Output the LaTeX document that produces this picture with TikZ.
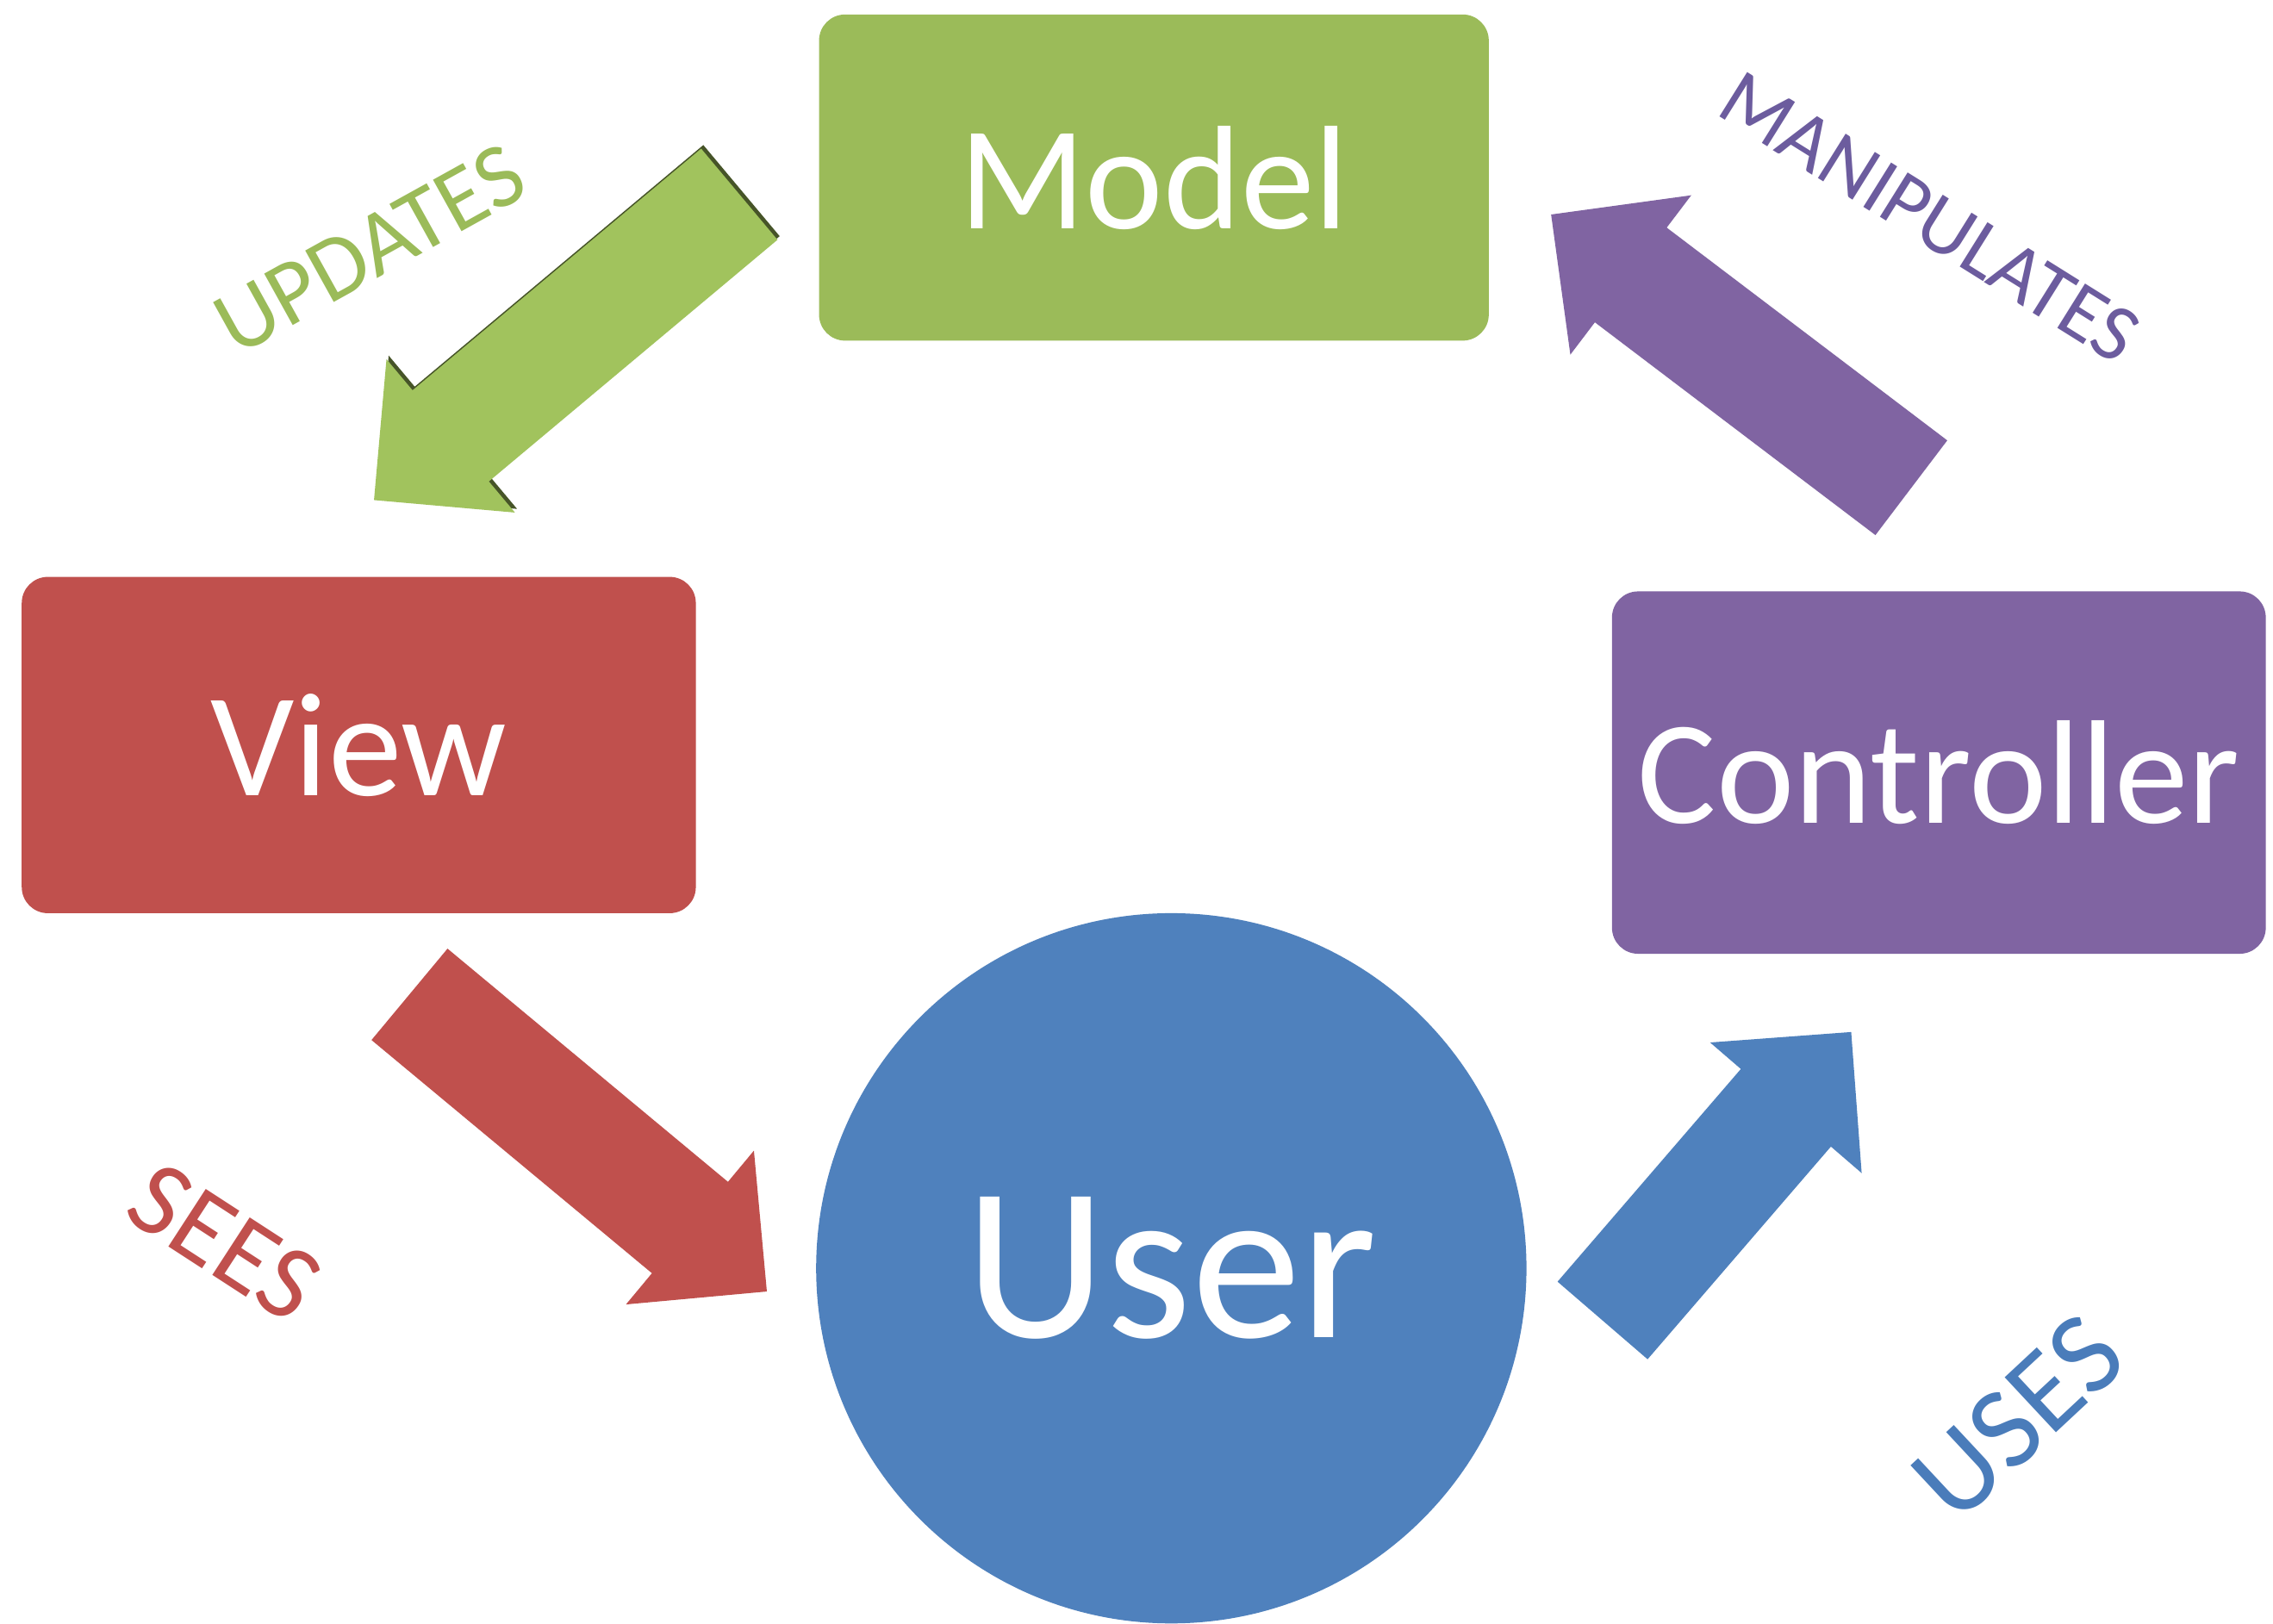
\documentclass[tikz,border=0pt]{standalone}
\usepackage{fontspec}
\setmainfont{Carlito}
\usetikzlibrary{calc,positioning}
\definecolor{mvcgreen}{HTML}{9BBB59}
\definecolor{arrgreen}{HTML}{A1C35D}
\definecolor{mvcred}{HTML}{C0504D}
\definecolor{mvcpurple}{HTML}{8064A2}
\definecolor{mvcblue}{HTML}{4F81BD}
\definecolor{txtpurple}{HTML}{6C5C9E}
\definecolor{txtblue}{HTML}{4A7CBA}
% block arrow: colour, tail, tip
\newcommand{\blockarrow}[3]{%
  \coordinate (nk) at ($(#3)!0.69cm!(#2)$);
  \fill[#1] ($(#2)!0.41cm!90:(#3)$) -- ($(nk)!0.41cm!90:(#3)$) -- ($(nk)!0.69cm!90:(#3)$) -- (#3)
    -- ($(nk)!0.69cm!-90:(#3)$) -- ($(nk)!0.41cm!-90:(#3)$) -- ($(#2)!0.41cm!-90:(#3)$) -- cycle;}
\begin{document}
\begin{tikzpicture}[
    boxnode/.style={rectangle,rounded corners=0.18cm,text=white,inner sep=0,
      font=\fontsize{29}{34}\selectfont},
    usercircle/.style={circle,fill=mvcblue,text=white,inner sep=0,minimum size=4.9cm,
      font=\fontsize{43}{50}\selectfont},
    verbtxt/.style={inner sep=0}]
    \useasboundingbox (0,0) rectangle (15.68,-11.2);
    \fill[white] (0,0) rectangle (15.68,-11.2);
    % Boxes
    \node[boxnode,fill=mvcgreen,minimum width=4.62cm,minimum height=2.25cm] (model) at (7.96,-1.225) {Model};
    \node[boxnode,fill=mvcred,minimum width=4.65cm,minimum height=2.32cm] (view) at (2.475,-5.14) {View};
    \node[boxnode,fill=mvcpurple,minimum width=4.51cm,minimum height=2.5cm] (ctrl) at (13.375,-5.33) {Controller};
    \node[usercircle] (user) at (8.08,-8.75) {User};
    % Arrow ends
    \coordinate (updS) at (5.10,-1.34);   \coordinate (updE) at (2.58,-3.45);
    \coordinate (updSs) at (5.115,-1.315); \coordinate (updEs) at (2.595,-3.425);
    \coordinate (seeS) at (2.825,-6.86);  \coordinate (seeE) at (5.29,-8.91);
    \coordinate (useS) at (11.055,-9.11); \coordinate (useE) at (12.77,-7.12);
    \coordinate (manS) at (13.185,-3.365); \coordinate (manE) at (10.70,-1.48);
    % Arrows
    \blockarrow{mvcgreen!45!black}{updSs}{updEs}
    \blockarrow{arrgreen}{updS}{updE}
    \blockarrow{mvcred}{seeS}{seeE}
    \blockarrow{mvcblue}{useS}{useE}
    \blockarrow{mvcpurple}{manS}{manE}
    % Verbs
    \node[verbtxt,text=mvcgreen,rotate=29,font=\fontsize{18}{22}\selectfont] (upd) at (2.55,-1.72) {UPDATES};
    \node[verbtxt,text=txtpurple,rotate=-32,font=\fontsize{16}{20}\selectfont] (man) at (13.31,-1.50) {MANIPULATES};
    \node[verbtxt,text=mvcred,rotate=-33,font=\fontsize{21}{25}\selectfont] (see) at (1.55,-8.57) {SEES};
    \node[verbtxt,text=txtblue,rotate=43,font=\fontsize{23}{27}\selectfont] (use) at (13.92,-9.78) {USES};
\end{tikzpicture}
\end{document}
